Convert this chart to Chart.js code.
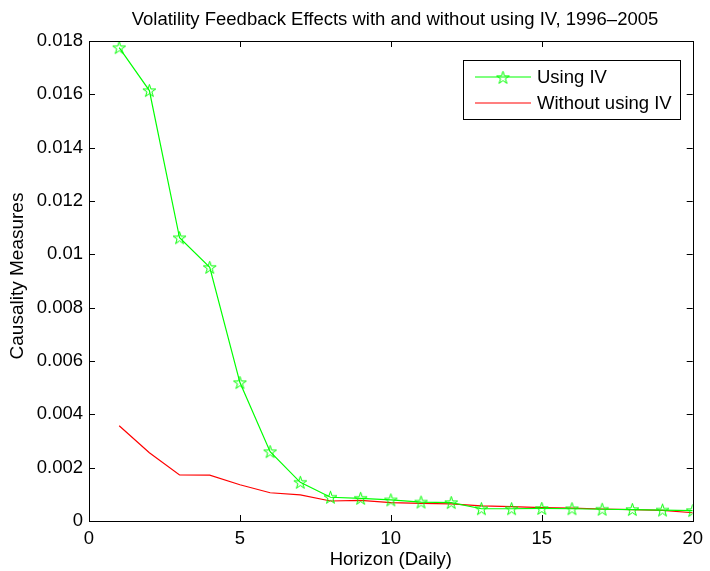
<!DOCTYPE html>
<html>
<head>
<meta charset="utf-8">
<script src="https://cdn.jsdelivr.net/npm/chart.js@4.4.1/dist/chart.umd.min.js"></script>
<style>
  html, body { margin: 0; padding: 0; background: #fff; }
  #wrap { width: 710px; height: 571px; }
</style>
</head>
<body>
<div id="wrap"><canvas id="chart" width="710" height="571"></canvas></div>
<script>
// Horizon (days)
const horizons = [1, 2, 3, 4, 5, 6, 7, 8, 9, 10, 11, 12, 13, 14, 15, 16, 17, 18, 19, 20];

// Causality measures
const usingIV = [0.01775, 0.01614, 0.01062, 0.00951, 0.00519, 0.0026, 0.00145, 0.00089, 0.00085, 0.00079,
                 0.00071, 0.00069, 0.00046, 0.00046, 0.00047, 0.00046, 0.00044, 0.00043, 0.00041, 0.00039];
const withoutIV = [0.00357, 0.00256, 0.00173, 0.00172, 0.00136, 0.00106, 0.00098, 0.00075, 0.00077, 0.00069,
                   0.00066, 0.00064, 0.00057, 0.00054, 0.0005, 0.00048, 0.00045, 0.00043, 0.0004, 0.00031];

const xTicks = [0, 5, 10, 15, 20];
const yTicks = [0, 0.002, 0.004, 0.006, 0.008, 0.01, 0.012, 0.014, 0.016, 0.018];

const FONT = 'Liberation Sans, Arial, Helvetica, sans-serif';
const FS = 18.5;
const GREEN = '#00ff00';
const RED = '#ff0000';

// MATLAB-ish pentagram marker
function makeStar(size, color) {
    const c = document.createElement('canvas');
    c.width = size; c.height = size;
    const g = c.getContext('2d');
    const cx = size / 2, cy = size / 2 + 0.5;
    const ro = size / 2 - 0.8, ri = ro * 0.38;
    g.beginPath();
    for (let i = 0; i < 10; i++) {
        const r = i % 2 === 0 ? ro : ri;
        const a = -Math.PI / 2 + i * Math.PI / 5;
        const px = cx + r * Math.cos(a), py = cy + r * Math.sin(a);
        if (i === 0) g.moveTo(px, py); else g.lineTo(px, py);
    }
    g.closePath();
    g.strokeStyle = color;
    g.lineWidth = 1;
    g.stroke();
    return c;
}
const star = makeStar(15, GREEN);

// Box, inward ticks, titles and legend
const matlabAxes = {
    id: 'matlabAxes',
    afterDatasetsDraw(chart) {
        const ctx = chart.ctx;
        const a = chart.chartArea;
        const xs = chart.scales.x, ys = chart.scales.y;
        ctx.save();
        ctx.strokeStyle = '#000';
        ctx.lineWidth = 1;
        ctx.strokeRect(Math.round(a.left) + 0.5, Math.round(a.top) + 0.5,
                       Math.round(a.right - a.left), Math.round(a.bottom - a.top));
        const tl = 6;
        ctx.beginPath();
        xTicks.forEach(v => {
            const px = Math.round(xs.getPixelForValue(v)) + 0.5;
            ctx.moveTo(px, a.bottom); ctx.lineTo(px, a.bottom - tl);
            ctx.moveTo(px, a.top); ctx.lineTo(px, a.top + tl);
        });
        yTicks.forEach(v => {
            const py = Math.round(ys.getPixelForValue(v)) + 0.5;
            ctx.moveTo(a.left, py); ctx.lineTo(a.left + tl, py);
            ctx.moveTo(a.right, py); ctx.lineTo(a.right - tl, py);
        });
        ctx.stroke();

        // titles
        ctx.fillStyle = '#000';
        ctx.textAlign = 'center';
        ctx.textBaseline = 'middle';
        ctx.font = FS + 'px ' + FONT;
        ctx.fillText('Volatility Feedback Effects with and without using IV, 1996\u20132005', 395, 20);
        ctx.fillText('Horizon (Daily)', (a.left + a.right) / 2, 560);
        ctx.save();
        ctx.translate(18, 276);
        ctx.rotate(-Math.PI / 2);
        ctx.font = '19px ' + FONT;
        ctx.fillText('Causality Measures', 0, 0);
        ctx.restore();

        // legend
        const lx = 463, ly = 60, lw = 217, lh = 59;
        ctx.fillStyle = '#fff';
        ctx.fillRect(lx, ly, lw, lh);
        ctx.strokeStyle = '#000';
        ctx.lineWidth = 1;
        ctx.strokeRect(lx + 0.5, ly + 0.5, lw, lh);
        const items = [
            { label: chart.data.datasets[0].label, color: GREEN, marker: true, y: 77 },
            { label: chart.data.datasets[1].label, color: RED, marker: false, y: 103 }
        ];
        items.forEach(it => {
            ctx.beginPath();
            ctx.strokeStyle = it.color;
            ctx.lineWidth = 1.2;
            ctx.moveTo(475, it.y);
            ctx.lineTo(531, it.y);
            ctx.stroke();
            if (it.marker) ctx.drawImage(star, 503 - 7.5, it.y - 7);
            ctx.fillStyle = '#000';
            ctx.textAlign = 'left';
            ctx.font = FS + 'px ' + FONT;
            ctx.fillText(it.label, 537, it.y + 1);
        });
        ctx.restore();
    }
};

const fmtTick = v => {
    const r = Math.round(v * 1000) / 1000;
    return r === 0 ? '0' : String(r);
};

new Chart(document.getElementById('chart'), {
    type: 'line',
    data: {
        datasets: [
            {
                label: 'Using IV',
                data: horizons.map((h, i) => ({ x: h, y: usingIV[i] })),
                borderColor: GREEN,
                backgroundColor: GREEN,
                borderWidth: 1.2,
                pointStyle: star,
                pointRadius: 7,
                tension: 0
            },
            {
                label: 'Without using IV',
                data: horizons.map((h, i) => ({ x: h, y: withoutIV[i] })),
                borderColor: RED,
                backgroundColor: RED,
                borderWidth: 1.2,
                pointRadius: 0,
                tension: 0
            }
        ]
    },
    options: {
        responsive: false,
        animation: false,
        events: [],
        layout: { padding: { top: 41, right: 13, bottom: 0, left: 0 } },
        plugins: {
            legend: { display: false },
            title: { display: false },
            tooltip: { enabled: false }
        },
        scales: {
            x: {
                type: 'linear',
                min: 0,
                max: 20,
                afterFit: s => { s.height = 50; },
                afterBuildTicks: s => { s.ticks = xTicks.map(v => ({ value: v })); },
                grid: { display: false, drawTicks: false },
                border: { display: false },
                ticks: { color: '#000', padding: 7, font: { family: FONT, size: FS }, maxRotation: 0 }
            },
            y: {
                type: 'linear',
                min: 0,
                max: 0.018,
                afterFit: s => { s.width = 89; },
                afterBuildTicks: s => { s.ticks = yTicks.map(v => ({ value: v })); },
                grid: { display: false, drawTicks: false },
                border: { display: false },
                ticks: { color: '#000', padding: 6, font: { family: FONT, size: FS }, callback: fmtTick }
            }
        }
    },
    plugins: [matlabAxes]
});
</script>
</body>
</html>
